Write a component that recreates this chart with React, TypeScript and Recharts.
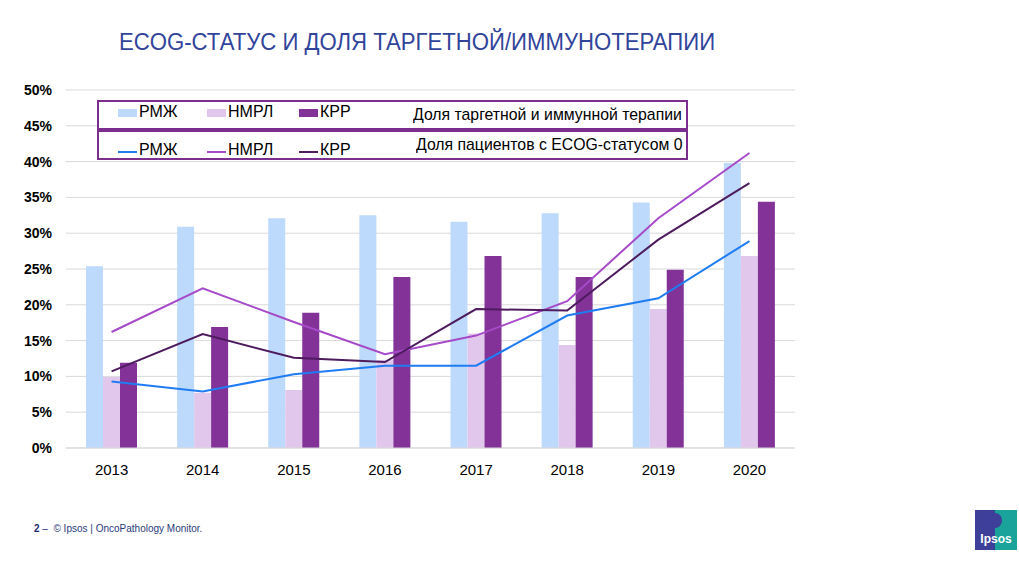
import React from 'react';
import { ComposedChart, Bar, Line, XAxis, YAxis, CartesianGrid } from 'recharts';

const years = ['2013', '2014', '2015', '2016', '2017', '2018', '2019', '2020'];
const barRmzh = [25.4, 30.9, 32.1, 32.5, 31.6, 32.8, 34.3, 39.8];
const barNmrl = [9.9, 7.7, 8.1, 12.3, 16.0, 14.4, 19.4, 26.8];
const barKrr = [11.9, 16.9, 18.9, 23.9, 26.8, 23.9, 24.9, 34.4];
const lineRmzh = [9.3, 7.9, 10.3, 11.5, 11.5, 18.5, 20.9, 28.9];
const lineNmrl = [16.2, 22.3, 17.6, 13.1, 15.7, 20.5, 32.1, 41.2];
const lineKrr = [10.7, 15.9, 12.6, 12.0, 19.4, 19.2, 29.1, 37.0];
const yTicks = [0, 5, 10, 15, 20, 25, 30, 35, 40, 45, 50];
const seriesNames = ['РМЖ', 'НМРЛ', 'КРР'];

const data = years.map((y, i) => ({
  year: y,
  bRmzh: barRmzh[i],
  bNmrl: barNmrl[i],
  bKrr: barKrr[i],
  lRmzh: lineRmzh[i],
  lNmrl: lineNmrl[i],
  lKrr: lineKrr[i],
}));

const barColors = ['#bdd9fb', '#e2c7ec', '#833298'];
const lineColors = ['#1f7cf2', '#a64ac9', '#4d1b5e'];
const font = 'Liberation Sans, Arial, sans-serif';

const swatchX = [118, 207, 299];

export default function App() {
  return (
    <div style={{ position: 'absolute', left: 0, top: 0, width: 1019, height: 563, background: '#fff', fontFamily: font, overflow: 'hidden' }}>
      <div style={{ position: 'absolute', left: 119, top: 29, fontSize: 23, color: '#31449b', whiteSpace: 'nowrap', transform: 'scaleX(0.963)', transformOrigin: 'left top' }}>
        ECOG-СТАТУС И ДОЛЯ ТАРГЕТНОЙ/ИММУНОТЕРАПИИ
      </div>
      <div style={{ position: 'absolute', left: 0, top: 0 }}>
        <ComposedChart
          width={1019}
          height={563}
          data={data}
          margin={{ top: 90, right: 224, bottom: 85, left: 6 }}
          barSize={17}
          barGap={0}
        >
          <CartesianGrid vertical={false} stroke="#d9d9d9" strokeWidth={1} />
          <XAxis
            dataKey="year"
            axisLine={{ stroke: '#d9d9d9' }}
            tickLine={false}
            tick={{ fill: '#000', fontSize: 15, fontFamily: font }}
            tickMargin={10}
            height={30}
          />
          <YAxis
            width={60}
            domain={[0, 50]}
            ticks={yTicks}
            axisLine={false}
            tickLine={false}
            tickFormatter={(v) => `${v}%`}
            tick={{ fill: '#000', fontSize: 14, fontWeight: 'bold', fontFamily: font }}
            tickMargin={8}
          />
          <Bar dataKey="bRmzh" fill={barColors[0]} isAnimationActive={false} />
          <Bar dataKey="bNmrl" fill={barColors[1]} isAnimationActive={false} />
          <Bar dataKey="bKrr" fill={barColors[2]} isAnimationActive={false} />
          <Line dataKey="lRmzh" stroke={lineColors[0]} strokeWidth={2} dot={false} isAnimationActive={false} type="linear" />
          <Line dataKey="lNmrl" stroke={lineColors[1]} strokeWidth={2} dot={false} isAnimationActive={false} type="linear" />
          <Line dataKey="lKrr" stroke={lineColors[2]} strokeWidth={2} dot={false} isAnimationActive={false} type="linear" />
        </ComposedChart>
      </div>
      {/* Legend boxes */}
      <div style={{ position: 'absolute', left: 97, top: 100, width: 587, height: 26, border: '2px solid #7b2e8d', background: '#fff' }} />
      <div style={{ position: 'absolute', left: 97, top: 130, width: 587, height: 26, border: '2px solid #7b2e8d', background: '#fff' }} />
      {seriesNames.map((n, i) => (
        <React.Fragment key={'b' + n}>
          <div style={{ position: 'absolute', left: swatchX[i], top: 109, width: 19, height: 8, background: barColors[i] }} />
          <div style={{ position: 'absolute', left: swatchX[i] + 21, top: 103, fontSize: 16, color: '#000' }}>{n}</div>
          <div style={{ position: 'absolute', left: swatchX[i], top: 151, width: 19, height: 2, background: lineColors[i] }} />
          <div style={{ position: 'absolute', left: swatchX[i] + 21, top: 141, fontSize: 16, color: '#000' }}>{n}</div>
        </React.Fragment>
      ))}
      <div style={{ position: 'absolute', left: 413, top: 105, fontSize: 17, color: '#000', whiteSpace: 'nowrap', transform: 'scaleX(0.93)', transformOrigin: 'left top' }}>
        Доля таргетной и иммунной терапии
      </div>
      <div style={{ position: 'absolute', left: 416, top: 135, fontSize: 17, color: '#000', whiteSpace: 'nowrap', transform: 'scaleX(0.93)', transformOrigin: 'left top' }}>
        Доля пациентов с ECOG-статусом 0
      </div>
      {/* Footer */}
      <div style={{ position: 'absolute', left: 34, top: 523, fontSize: 10, color: '#2a3a7a', whiteSpace: 'nowrap' }}>
        <b style={{ color: '#1d2a6b' }}>2</b> –&nbsp; © Ipsos | OncoPathology Monitor.
      </div>
      {/* Logo */}
      <div style={{ position: 'absolute', left: 975, top: 510, width: 42, height: 40, overflow: 'hidden' }}>
        <div style={{ position: 'absolute', left: 0, top: 0, width: 20, height: 40, background: '#3d3f99' }} />
        <div style={{ position: 'absolute', left: 20, top: 0, width: 22, height: 40, background: '#1aa39b' }} />
        <div style={{ position: 'absolute', left: 14, top: 3, width: 13, height: 15, borderRadius: '50%', background: '#3d3f99' }} />
        <div style={{ position: 'absolute', left: 0, top: 22, width: 42, textAlign: 'center', fontSize: 12, fontWeight: 'bold', color: '#fff' }}>Ipsos</div>
      </div>
    </div>
  );
}
